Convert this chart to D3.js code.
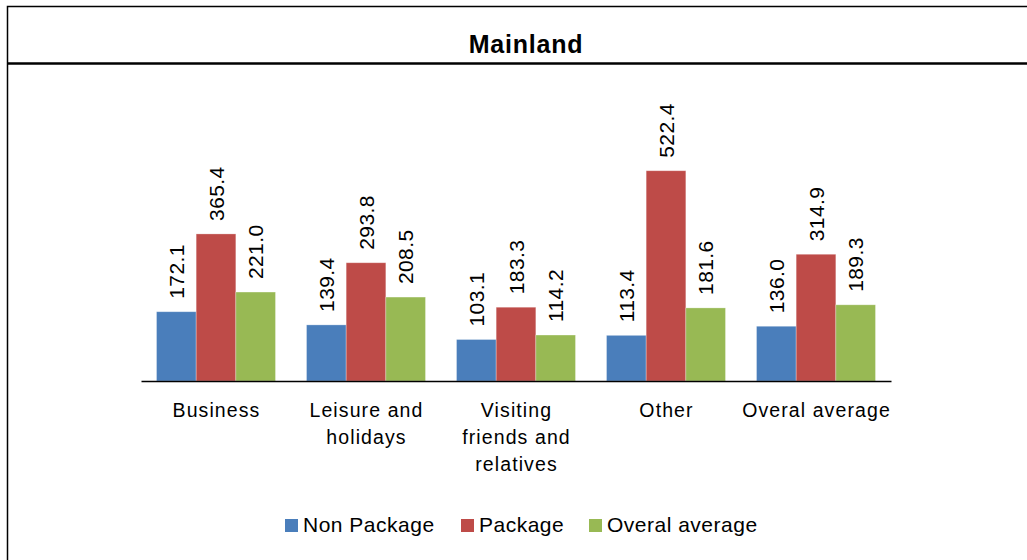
<!DOCTYPE html>
<html>
<head>
<meta charset="utf-8">
<script src="https://cdn.jsdelivr.net/npm/d3@7"></script>
<style>
  html, body { margin: 0; padding: 0; background: #fff; }
  svg { display: block; font-family: "Liberation Sans", Arial, Helvetica, sans-serif; }
</style>
</head>
<body>
<svg id="chart" width="1027" height="560"></svg>
<script>
// Average spending by purpose of visit, Mainland visitors
const categories = [["Business"], ["Leisure and", "holidays"], ["Visiting", "friends and", "relatives"], ["Other"], ["Overal average"]];
const seriesNames = ["Non Package", "Package", "Overal average"];
const nonPackage = [172.1, 139.4, 103.1, 113.4, 136.0];
const packageVals = [365.4, 293.8, 183.3, 522.4, 314.9];
const overall = [221.0, 208.5, 114.2, 181.6, 189.3];
const colors = ["#4a7ebb", "#be4b48", "#98b954"];

const series = [nonPackage, packageVals, overall];
const svg = d3.select("#chart");

// Frame and title band
svg.append("rect").attr("x", 7.5).attr("y", 6.5).attr("width", 1040).attr("height", 570)
  .attr("fill", "none").attr("stroke", "#000").attr("stroke-width", 1.5);
svg.append("line").attr("x1", 7).attr("x2", 1027).attr("y1", 63.5).attr("y2", 63.5)
  .attr("stroke", "#000").attr("stroke-width", 2.5);
svg.append("text").attr("x", 526).attr("y", 53).attr("text-anchor", "middle")
  .attr("font-size", 25).attr("font-weight", "bold").attr("letter-spacing", 0.8).text("Mainland");

const baseY = 381;
const x0 = d3.scaleBand().domain(d3.range(categories.length)).range([141, 891]).paddingInner(0.207).paddingOuter(0.1035);
const x1 = d3.scaleBand().domain(d3.range(series.length)).range([0, x0.bandwidth()]);
const y = d3.scaleLinear().domain([0, 600]).range([baseY, baseY - 600 * 0.4025]);

const groups = svg.append("g").selectAll("g").data(categories).join("g")
  .attr("transform", (d, i) => `translate(${x0(i)},0)`);

groups.each(function(cat, ci) {
  const g = d3.select(this);
  series.forEach((vals, si) => {
    const v = vals[ci];
    g.append("rect")
      .attr("x", x1(si)).attr("width", x1.bandwidth())
      .attr("y", y(v)).attr("height", y(0) - y(v))
      .attr("fill", colors[si]).attr("stroke", "#fff").attr("stroke-opacity", 0.35).attr("stroke-width", 0.8);
    const cx = x1(si) + x1.bandwidth() / 2;
    g.append("text")
      .attr("transform", `translate(${cx + 7.5},${y(v) - 13}) rotate(-90)`)
      .attr("font-size", 21).attr("letter-spacing", 0.4).attr("fill", "#000")
      .text(v.toFixed(1));
  });
});

// Category axis
const axis = svg.append("g").attr("transform", `translate(0,${baseY})`)
  .call(d3.axisBottom(x0).tickSize(0).tickFormat(""));
axis.select(".domain").attr("stroke", "#000").attr("stroke-width", 1.5);

categories.forEach((lines, i) => {
  const cx = x0(i) + x0.bandwidth() / 2 + 0.5;
  const t = svg.append("text").attr("text-anchor", "middle").attr("font-size", 19.5)
    .attr("letter-spacing", 1.1).attr("x", cx).attr("y", 417);
  lines.forEach((ln, k) => t.append("tspan").attr("x", cx).attr("dy", k ? 27 : 0).text(ln));
});

// Legend
const legendX = [285, 461, 589];
const legend = svg.append("g").selectAll("g").data(seriesNames).join("g")
  .attr("transform", (d, i) => `translate(${legendX[i]},519)`);
legend.append("rect").attr("width", 13).attr("height", 13).attr("fill", (d, i) => colors[i]);
legend.append("text").attr("x", 18).attr("y", 12.7).attr("font-size", 21).attr("letter-spacing", 0.5).text(d => d);
</script>
</body>
</html>
